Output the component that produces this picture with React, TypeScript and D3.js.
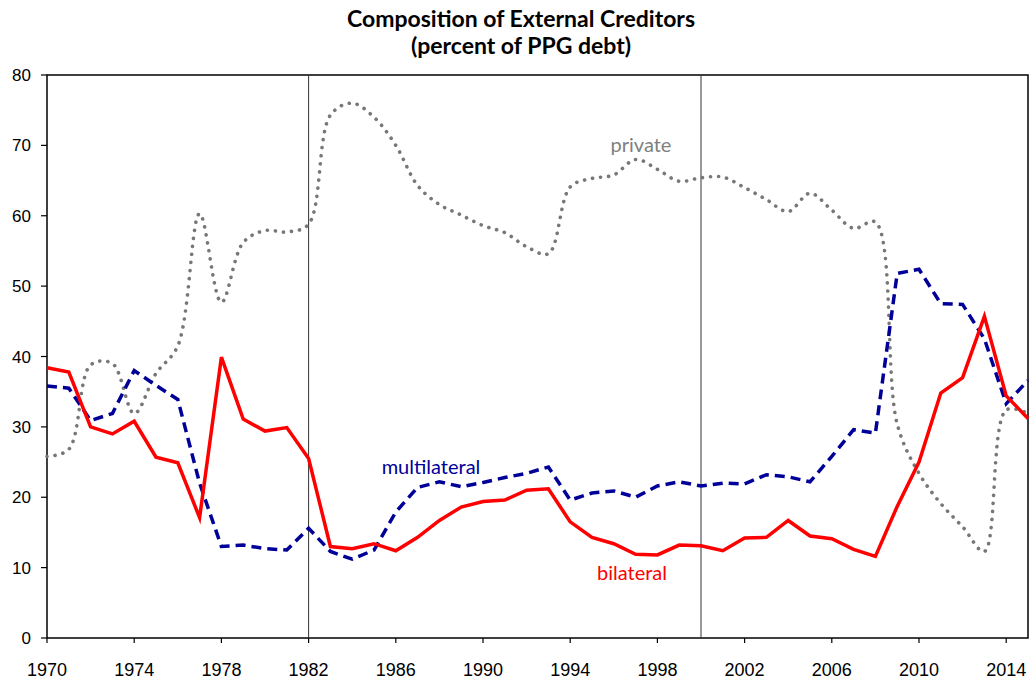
import React from "react";
import * as d3 from "d3";

const years: number[] = d3.range(1970, 2016);

const bilateral: number[] = [
  38.4, 37.8, 30.0, 29.0, 30.8, 25.7, 24.9, 17.1, 39.9, 31.1,
  29.4, 29.9, 25.5, 13.0, 12.7, 13.4, 12.4, 14.3, 16.7, 18.6,
  19.4, 19.6, 21.0, 21.2, 16.5, 14.3, 13.4, 11.9, 11.8, 13.2,
  13.1, 12.4, 14.2, 14.3, 16.7, 14.5, 14.1, 12.6, 11.6, 18.7,
  25.0, 34.8, 37.0, 45.7, 34.4, 31.2,
];

const multilateral: number[] = [
  35.8, 35.5, 30.9, 31.9, 38.0, 35.9, 33.9, 22.0, 13.0, 13.2,
  12.7, 12.5, 15.6, 12.3, 11.2, 12.5, 17.9, 21.4, 22.2, 21.5,
  22.1, 22.8, 23.4, 24.3, 19.6, 20.6, 20.9, 20.0, 21.6, 22.2,
  21.6, 22.0, 21.9, 23.2, 22.9, 22.2, 25.8, 29.6, 29.1, 51.8,
  52.4, 47.5, 47.4, 42.5, 33.3, 36.6,
];

const privateCred: number[] = [
  25.8, 26.8, 38.8, 39.0, 31.9, 37.6, 41.5, 60.3, 47.7, 56.2,
  57.9, 57.7, 58.8, 74.3, 76.0, 74.0, 70.0, 64.3, 61.6, 60.1,
  58.6, 57.6, 55.6, 54.6, 64.1, 65.3, 65.8, 68.0, 66.6, 64.9,
  65.4, 65.5, 64.0, 62.3, 60.6, 63.2, 60.8, 58.2, 59.1, 30.4,
  23.4, 19.1, 15.8, 12.3, 32.4, 31.9,
];

const xTicks: number[] = d3.range(1970, 2015, 4);
const yTicks: number[] = d3.range(0, 81, 10);
const markerYears: number[] = [1982, 2000];
const titleLines: string[] = ["Composition of External Creditors", "(percent of PPG debt)"];

export default function App() {
  const W = 1030, H = 681;
  const left = 47, right = 1028, top = 75, bottom = 638;
  const x = d3.scaleLinear().domain([1970, 2015]).range([left, right]);
  const y = d3.scaleLinear().domain([0, 80]).range([bottom, top]);

  const straight = d3.line<number>().x((_, i) => x(years[i])).y((v) => y(v));
  const smooth = d3
    .line<number>()
    .x((_, i) => x(years[i]))
    .y((v) => y(v))
    .curve(d3.curveCatmullRom.alpha(0.5));

  const axisFont = "'Liberation Sans', Arial, sans-serif";
  const labelFont = "Lato, 'Open Sans', sans-serif";

  return (
    <svg
      width={W}
      height={H}
      style={{ position: "absolute", left: 0, top: 0, background: "#fff" }}
    >
      <rect x={0} y={0} width={W} height={H} fill="#fff" />
      {titleLines.map((t, i) => (
        <text
          key={t}
          x={521}
          y={27 + i * 27}
          textAnchor="middle"
          fontFamily={labelFont}
          fontWeight="bold"
          fontSize={23}
          fill="#000"
        >
          {t}
        </text>
      ))}

      {/* frame */}
      <rect
        x={left}
        y={top}
        width={right - left}
        height={bottom - top}
        fill="none"
        stroke="#000"
        strokeWidth={1.5}
      />

      {/* vertical marker lines */}
      {markerYears.map((yr) => (
        <line
          key={yr}
          x1={x(yr)}
          x2={x(yr)}
          y1={top}
          y2={bottom}
          stroke="#333"
          strokeWidth={1}
        />
      ))}

      {/* y ticks */}
      {yTicks.map((t) => (
        <g key={"y" + t}>
          <line x1={left - 6} x2={left} y1={y(t)} y2={y(t)} stroke="#000" strokeWidth={1.2} />
          <text
            x={left - 16}
            y={y(t) + 6}
            textAnchor="end"
            fontFamily={axisFont}
            fontSize={17}
            fill="#000"
          >
            {t}
          </text>
        </g>
      ))}

      {/* x ticks */}
      {xTicks.map((t) => (
        <g key={"x" + t}>
          <line x1={x(t)} x2={x(t)} y1={bottom} y2={bottom + 5} stroke="#000" strokeWidth={1.2} />
          <text
            x={x(t)}
            y={bottom + 38}
            textAnchor="middle"
            fontFamily={axisFont}
            fontSize={18}
            fill="#000"
          >
            {t}
          </text>
        </g>
      ))}

      {/* series */}
      <path
        d={smooth(privateCred) || ""}
        fill="none"
        stroke="#777777"
        strokeWidth={3.6}
        strokeLinecap="round"
        strokeDasharray="0.1 8"
      />
      <path
        d={straight(multilateral) || ""}
        fill="none"
        stroke="#000099"
        strokeWidth={3.5}
        strokeDasharray="10 6"
      />
      <path
        d={straight(bilateral) || ""}
        fill="none"
        stroke="#ff0000"
        strokeWidth={3.5}
        strokeLinejoin="miter"
      />

      {/* labels */}
      <text x={641} y={152} textAnchor="middle" fontFamily={labelFont} fontSize={20} fill="#808080">
        private
      </text>
      <text x={431} y={474} textAnchor="middle" fontFamily={labelFont} fontSize={20} fill="#000099">
        multilateral
      </text>
      <text x={632} y={580} textAnchor="middle" fontFamily={labelFont} fontSize={20} fill="#ff0000">
        bilateral
      </text>
    </svg>
  );
}
